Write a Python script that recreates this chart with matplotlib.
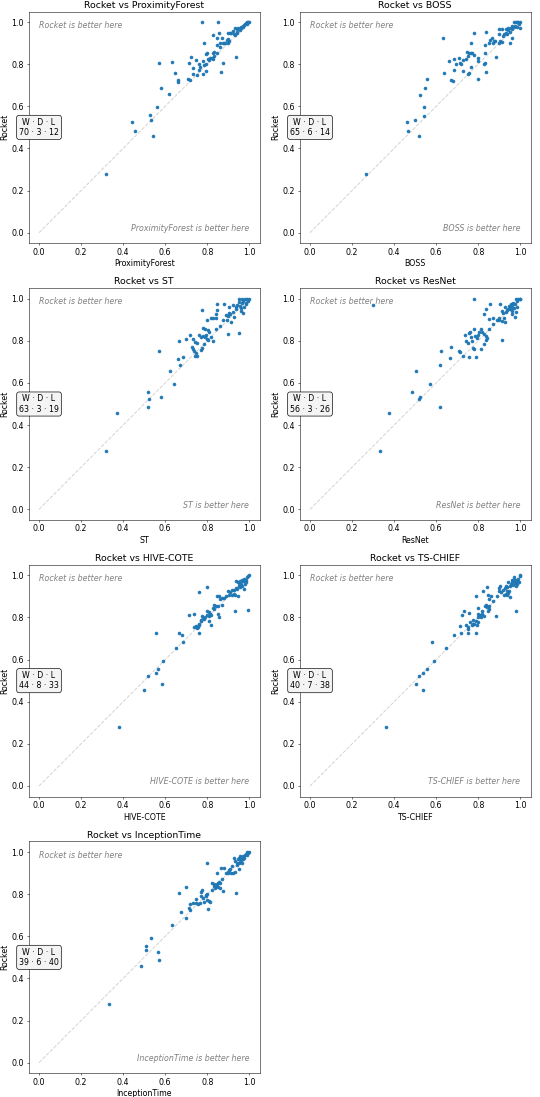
import matplotlib
matplotlib.use("Agg")
import matplotlib.pyplot as plt

# competitor names and win / draw / loss counts for Rocket
competitors = ["ProximityForest", "BOSS", "ST", "ResNet", "HIVE-COTE", "TS-CHIEF", "InceptionTime"]
wdl = [(70, 3, 12), (65, 6, 14), (63, 3, 19), (56, 3, 26), (44, 8, 33), (40, 7, 38), (39, 6, 40)]

# accuracies: (competitor, rocket)
pf_pts = [(0.775, 1.0), (0.849, 1.0), (0.99, 1.0), (0.995, 1.0), (1.0, 1.0), (0.98, 0.99), (0.968, 0.981),
          (0.959, 0.978), (0.948, 0.97), (0.94, 0.965), (0.932, 0.972), (0.924, 0.959), (0.857, 0.946),
          (0.829, 0.94), (0.899, 0.946), (0.908, 0.949), (0.848, 0.922), (0.868, 0.926), (0.94, 0.946),
          (0.932, 0.94), (0.892, 0.915), (0.905, 0.911), (0.886, 0.902), (0.873, 0.899), (0.86, 0.902),
          (0.784, 0.899), (0.845, 0.891), (0.829, 0.854), (0.8, 0.854), (0.794, 0.847), (0.848, 0.854),
          (0.834, 0.839), (0.821, 0.828), (0.805, 0.823), (0.829, 0.823), (0.937, 0.835), (0.721, 0.835),
          (0.746, 0.82), (0.634, 0.812), (0.569, 0.807), (0.715, 0.807), (0.781, 0.815), (0.761, 0.799),
          (0.786, 0.796), (0.766, 0.788), (0.876, 0.807), (0.734, 0.783), (0.762, 0.772), (0.794, 0.767),
          (0.645, 0.759), (0.734, 0.755), (0.778, 0.755), (0.753, 0.748), (0.865, 0.764), (0.661, 0.725),
          (0.661, 0.717), (0.707, 0.731), (0.718, 0.725), (0.58, 0.685), (0.618, 0.657), (0.563, 0.595),
          (0.528, 0.557), (0.532, 0.535), (0.444, 0.525), (0.456, 0.484), (0.542, 0.459), (0.32, 0.28),
          (0.96, 0.97), (0.975, 0.985), (0.915, 0.95), (0.955, 0.96), (0.88, 0.9), (0.86, 0.88),
          (0.83, 0.86), (0.815, 0.83), (0.9, 0.92), (0.985, 0.995), (0.97, 0.975), (0.925, 0.945),
          (0.94, 0.955), (0.795, 0.8), (0.81, 0.82), (0.9, 0.9), (0.99, 0.99)]

boss_pts = [(0.631, 0.924), (0.781, 0.948), (0.836, 0.951), (0.968, 1.0), (0.98, 1.0), (0.99, 1.0), (1.0, 1.0),
            (0.97, 0.975), (0.985, 0.975), (1.0, 0.972), (0.9, 0.965), (0.915, 0.965), (0.934, 0.965),
            (0.943, 0.96), (0.93, 0.95), (0.938, 0.942), (0.922, 0.945), (0.899, 0.943), (0.959, 0.926),
            (0.765, 0.899), (0.899, 0.902), (0.915, 0.907), (0.95, 0.899), (0.867, 0.922), (0.855, 0.915),
            (0.875, 0.911), (0.833, 0.891), (0.849, 0.899), (0.745, 0.859), (0.757, 0.854), (0.765, 0.851),
            (0.833, 0.854), (0.781, 0.843), (0.801, 0.831), (0.801, 0.815), (0.707, 0.831), (0.74, 0.823),
            (0.726, 0.82), (0.686, 0.823), (0.713, 0.807), (0.662, 0.813), (0.694, 0.799), (0.718, 0.799),
            (0.765, 0.788), (0.683, 0.772), (0.729, 0.767), (0.757, 0.759), (0.749, 0.753), (0.833, 0.807),
            (0.828, 0.801), (0.886, 0.835), (0.836, 0.764), (0.637, 0.756), (0.8, 0.731), (0.67, 0.725),
            (0.678, 0.718), (0.558, 0.728), (0.546, 0.685), (0.524, 0.655), (0.543, 0.595), (0.544, 0.554),
            (0.497, 0.535), (0.461, 0.524), (0.464, 0.484), (0.516, 0.459), (0.265, 0.28),
            (0.96, 0.965), (0.975, 0.98), (0.95, 0.955), (0.92, 0.935), (0.905, 0.91), (0.995, 0.99),
            (0.87, 0.9), (0.94, 0.97), (0.96, 0.98), (0.985, 1.0), (0.75, 0.84), (0.77, 0.855),
            (0.88, 0.91), (0.955, 0.97)]

st_pts = [(0.953, 1.0), (0.965, 1.0), (0.98, 1.0), (0.99, 1.0), (1.0, 1.0), (0.848, 0.976), (0.88, 0.976),
          (0.776, 0.948), (0.921, 0.97), (0.94, 0.972), (0.955, 0.965), (0.965, 0.978), (0.975, 0.96),
          (0.984, 0.98), (0.952, 0.985), (0.96, 0.94), (0.968, 0.93), (0.905, 0.962), (0.847, 0.946),
          (0.842, 0.926), (0.921, 0.938), (0.929, 0.914), (0.89, 0.922), (0.902, 0.93), (0.906, 0.925),
          (0.817, 0.91), (0.826, 0.906), (0.842, 0.91), (0.798, 0.899), (0.877, 0.899), (0.896, 0.899),
          (0.913, 0.891), (0.78, 0.859), (0.79, 0.854), (0.803, 0.851), (0.842, 0.856), (0.719, 0.827),
          (0.763, 0.83), (0.779, 0.822), (0.7, 0.811), (0.731, 0.807), (0.795, 0.827), (0.8, 0.811),
          (0.805, 0.804), (0.79, 0.818), (0.741, 0.795), (0.75, 0.792), (0.768, 0.819), (0.668, 0.799),
          (0.829, 0.799), (0.897, 0.834), (0.953, 0.835), (0.728, 0.77), (0.734, 0.759), (0.739, 0.751),
          (0.747, 0.743), (0.744, 0.729), (0.752, 0.728), (0.768, 0.756), (0.773, 0.764), (0.684, 0.724),
          (0.659, 0.716), (0.67, 0.686), (0.569, 0.754), (0.624, 0.656), (0.641, 0.594), (0.517, 0.556),
          (0.521, 0.525), (0.58, 0.534), (0.518, 0.487), (0.371, 0.458), (0.319, 0.279),
          (0.97, 0.99), (0.935, 0.95), (0.985, 0.975), (0.9, 0.92), (0.86, 0.87), (0.81, 0.84),
          (0.82, 0.82), (0.785, 0.785), (0.935, 0.96), (0.995, 0.99), (0.96, 0.955)]

resnet_pts = [(0.778, 1.0), (0.98, 1.0), (0.99, 1.0), (0.997, 0.998), (1.0, 1.0), (0.3, 0.97), (0.856, 0.976),
              (0.904, 0.976), (0.946, 0.965), (0.954, 0.962), (0.962, 0.97), (0.975, 0.973), (0.97, 0.958),
              (0.959, 0.942), (0.95, 0.952), (0.839, 0.949), (0.828, 0.926), (0.927, 0.959), (0.912, 0.943),
              (0.93, 0.938), (0.978, 0.938), (0.975, 0.915), (0.959, 0.926), (0.849, 0.902), (0.871, 0.91),
              (0.888, 0.899), (0.899, 0.899), (0.915, 0.896), (0.924, 0.907), (0.927, 0.891), (0.779, 0.856),
              (0.804, 0.843), (0.811, 0.856), (0.738, 0.83), (0.754, 0.835), (0.767, 0.819), (0.785, 0.823),
              (0.793, 0.815), (0.82, 0.84), (0.828, 0.833), (0.836, 0.825), (0.844, 0.812), (0.839, 0.804),
              (0.852, 0.854), (0.744, 0.8), (0.751, 0.79), (0.77, 0.799), (0.773, 0.767), (0.778, 0.76),
              (0.814, 0.76), (0.828, 0.784), (0.913, 0.805), (0.67, 0.772), (0.71, 0.753), (0.714, 0.748),
              (0.623, 0.754), (0.729, 0.729), (0.757, 0.724), (0.79, 0.724), (0.664, 0.718), (0.618, 0.685),
              (0.505, 0.656), (0.569, 0.594), (0.484, 0.555), (0.524, 0.534), (0.517, 0.525), (0.62, 0.487),
              (0.374, 0.456), (0.333, 0.277),
              (0.94, 0.95), (0.965, 0.98), (0.985, 0.99), (0.9, 0.91), (0.935, 0.945), (0.96, 0.955),
              (0.8, 0.83), (0.87, 0.88), (0.955, 0.975), (0.92, 0.93), (0.985, 0.96), (0.76, 0.84)]

hc_pts = [(1.0, 1.0), (0.995, 0.998), (0.985, 0.979), (0.977, 0.984), (0.966, 0.979), (0.956, 0.975),
          (0.945, 0.968), (0.937, 0.972), (0.953, 0.964), (0.972, 0.972), (0.981, 0.961), (0.76, 0.923),
          (0.801, 0.946), (0.937, 0.94), (0.929, 0.932), (0.94, 0.935), (0.95, 0.951), (0.973, 0.937),
          (0.899, 0.926), (0.905, 0.905), (0.918, 0.905), (0.948, 0.9), (0.926, 0.91), (0.934, 0.909),
          (0.848, 0.902), (0.858, 0.9), (0.87, 0.893), (0.881, 0.893), (0.863, 0.89), (0.834, 0.858),
          (0.842, 0.853), (0.826, 0.845), (0.85, 0.853), (0.932, 0.833), (0.992, 0.834), (0.8, 0.833),
          (0.81, 0.826), (0.814, 0.818), (0.82, 0.81), (0.807, 0.807), (0.798, 0.813), (0.85, 0.818),
          (0.858, 0.803), (0.711, 0.81), (0.739, 0.818), (0.775, 0.808), (0.779, 0.798), (0.784, 0.792),
          (0.771, 0.787), (0.81, 0.785), (0.817, 0.763), (0.738, 0.757), (0.75, 0.75), (0.757, 0.755),
          (0.76, 0.766), (0.763, 0.771), (0.769, 0.782), (0.763, 0.728), (0.664, 0.724), (0.681, 0.719),
          (0.684, 0.684), (0.556, 0.727), (0.652, 0.656), (0.592, 0.594), (0.566, 0.555), (0.555, 0.536),
          (0.517, 0.524), (0.586, 0.485), (0.498, 0.458), (0.379, 0.28),
          (0.96, 0.96), (0.99, 0.99), (0.975, 0.975), (0.92, 0.93), (0.89, 0.9), (0.83, 0.84),
          (0.79, 0.8), (0.745, 0.76), (0.965, 0.95), (0.985, 0.97), (0.955, 0.945), (0.87, 0.86),
          (0.91, 0.92)]

chief_pts = [(1.0, 1.0), (0.998, 0.997), (0.976, 0.978), (0.984, 0.975), (0.97, 0.978), (0.962, 0.97),
             (0.975, 0.964), (0.994, 0.969), (0.981, 0.95), (0.965, 0.955), (0.942, 0.968), (0.841, 0.946),
             (0.904, 0.949), (0.899, 0.94), (0.938, 0.943), (0.927, 0.94), (0.946, 0.928), (0.825, 0.924),
             (0.899, 0.924), (0.907, 0.921), (0.93, 0.913), (0.938, 0.905), (0.95, 0.897), (0.923, 0.905),
             (0.943, 0.918), (0.789, 0.9), (0.847, 0.905), (0.86, 0.902), (0.852, 0.89), (0.833, 0.853),
             (0.844, 0.848), (0.852, 0.853), (0.847, 0.833), (0.849, 0.839), (0.801, 0.847), (0.981, 0.833),
             (0.733, 0.829), (0.754, 0.82), (0.721, 0.814), (0.797, 0.818), (0.82, 0.815), (0.815, 0.8),
             (0.828, 0.806), (0.886, 0.807), (0.776, 0.79), (0.789, 0.783), (0.797, 0.78), (0.782, 0.77),
             (0.792, 0.763), (0.773, 0.77), (0.77, 0.763), (0.801, 0.8), (0.741, 0.763), (0.749, 0.754),
             (0.752, 0.746), (0.711, 0.76), (0.716, 0.725), (0.751, 0.728), (0.789, 0.727), (0.683, 0.719),
             (0.579, 0.684), (0.645, 0.656), (0.59, 0.594), (0.558, 0.555), (0.538, 0.536), (0.517, 0.524),
             (0.505, 0.485), (0.536, 0.458), (0.361, 0.28),
             (0.955, 0.96), (0.99, 0.985), (0.97, 0.99), (0.92, 0.93), (0.87, 0.88), (0.82, 0.83),
             (0.96, 0.98), (0.985, 0.96), (0.935, 0.925), (0.89, 0.9), (0.81, 0.81), (0.76, 0.78),
             (0.95, 0.95), (0.93, 0.95), (0.975, 0.975), (0.835, 0.86)]

it_pts = [(1.0, 1.0), (0.987, 1.0), (0.994, 0.997), (0.979, 0.987), (0.968, 0.979), (0.961, 0.975),
          (0.953, 0.97), (0.945, 0.965), (0.934, 0.959), (0.94, 0.949), (0.956, 0.954), (0.968, 0.965),
          (0.95, 0.946), (0.972, 0.976), (0.929, 0.97), (0.801, 0.949), (0.866, 0.926), (0.882, 0.926),
          (0.847, 0.902), (0.905, 0.915), (0.897, 0.907), (0.889, 0.902), (0.913, 0.899), (0.921, 0.902),
          (0.949, 0.918), (0.93, 0.905), (0.823, 0.855), (0.834, 0.848), (0.842, 0.839), (0.853, 0.855),
          (0.858, 0.86), (0.85, 0.836), (0.839, 0.828), (0.861, 0.828), (0.874, 0.815), (0.935, 0.807),
          (0.7, 0.834), (0.664, 0.807), (0.776, 0.82), (0.771, 0.81), (0.795, 0.797), (0.792, 0.791),
          (0.798, 0.772), (0.807, 0.766), (0.814, 0.763), (0.768, 0.791), (0.747, 0.777), (0.731, 0.756),
          (0.755, 0.753), (0.766, 0.759), (0.72, 0.753), (0.713, 0.734), (0.72, 0.725), (0.803, 0.728),
          (0.673, 0.717), (0.7, 0.685), (0.632, 0.655), (0.531, 0.593), (0.51, 0.554), (0.507, 0.535),
          (0.566, 0.524), (0.573, 0.486), (0.483, 0.459), (0.333, 0.278),
          (0.96, 0.96), (0.985, 0.99), (0.975, 0.97), (0.92, 0.935), (0.94, 0.94), (0.9, 0.9),
          (0.87, 0.87), (0.83, 0.84), (0.8, 0.8), (0.78, 0.78), (0.745, 0.76), (0.955, 0.98),
          (0.99, 0.985), (0.965, 0.95), (0.91, 0.92), (0.845, 0.85), (0.825, 0.82), (0.785, 0.765),
          (0.86, 0.855)]

all_pts = [pf_pts, boss_pts, st_pts, resnet_pts, hc_pts, chief_pts, it_pts]

DPI = 47
plt.rcParams["font.size"] = 12

fig = plt.figure(figsize=(540 / DPI, 1097 / DPI), dpi=DPI)

col_left = [28.5 / 540, 299.5 / 540]
row_bottom = [0.7783, 0.5261, 0.2739, 0.0217]
w, h = 231.3 / 540, 231.7 / 1097

for i, (name, pts) in enumerate(zip(competitors, all_pts)):
    r, c = divmod(i, 2)
    ax = fig.add_axes([col_left[c], row_bottom[r], w, h])
    xs = [p[0] for p in pts]
    ys = [p[1] for p in pts]
    ax.plot([0, 1], [0, 1], ls="--", color="lightgray", lw=1.5, zorder=1)
    ax.scatter(xs, ys, s=20, color="C0", zorder=2)
    ax.set_xlim(-0.05, 1.05)
    ax.set_ylim(-0.05, 1.05)
    ax.set_xticks([0, 0.2, 0.4, 0.6, 0.8, 1.0])
    ax.set_yticks([0, 0.2, 0.4, 0.6, 0.8, 1.0])
    ax.set_title(f"Rocket vs {name}")
    ax.set_xlabel(name)
    ax.set_ylabel("Rocket")
    ax.text(0.0, 0.985, "Rocket is better here", style="italic", color="gray",
            ha="left", va="center", fontsize=12)
    ax.text(1.0, 0.02, f"{name} is better here", style="italic", color="gray",
            ha="right", va="center", fontsize=12)
    win, draw, loss = wdl[i]
    ax.text(0.0, 0.5, f"W \u00b7 D \u00b7 L\n{win} \u00b7 {draw} \u00b7 {loss}", ha="center", va="center",
            fontsize=12, clip_on=False, zorder=5,
            bbox=dict(boxstyle="round", facecolor="#f4f4f4", edgecolor="black"))

fig.savefig("out.png", dpi=DPI)
